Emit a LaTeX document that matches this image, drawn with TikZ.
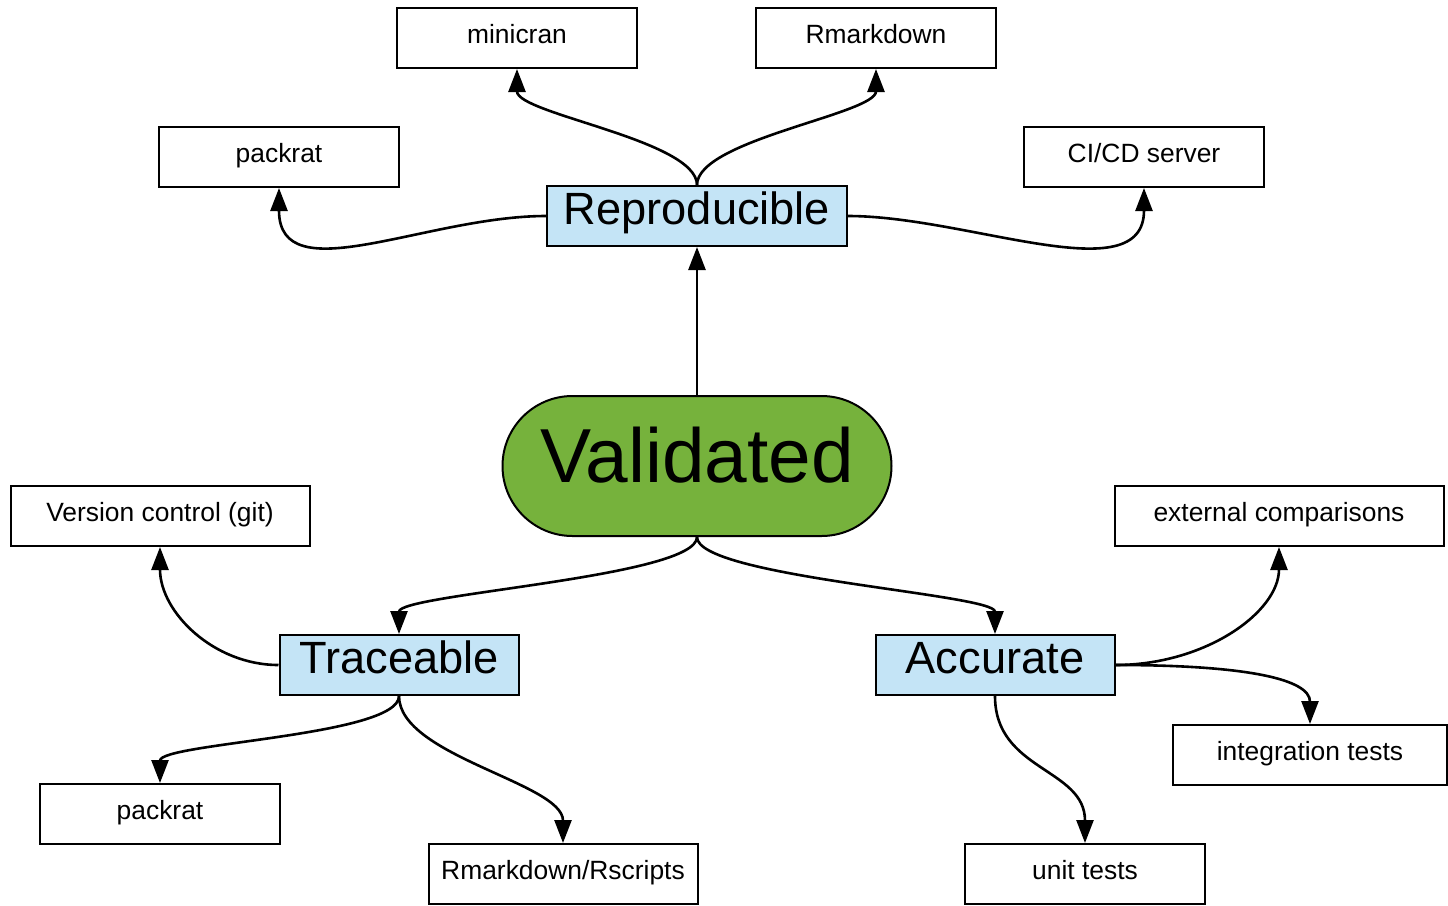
\documentclass[tikz,border=0pt]{standalone}
\usepackage{fontspec}
\setmainfont{Liberation Sans}
\usetikzlibrary{arrows.meta}

\definecolor{leafblue}{RGB}{196,228,246}
\definecolor{rootgreen}{RGB}{118,178,60}

\tikzset{
  leaf/.style={draw, line width=1pt, fill=white, minimum width=120pt, minimum height=30pt, inner sep=0pt, text height=9.5pt, text depth=4.5pt, font=\fontsize{13.2}{15}\selectfont},
  branch/.style={draw, line width=1pt, fill=leafblue, minimum width=119.5pt, minimum height=30pt, inner sep=0pt, text height=16.5pt, text depth=8pt, font=\fontsize{22.6}{26}\selectfont},
  root/.style={draw, line width=1pt, fill=rootgreen, rounded corners=35pt, minimum width=194.5pt, minimum height=70pt, inner sep=0pt, text height=28pt, text depth=12pt, font=\fontsize{38.3}{44}\selectfont},
  link/.style={line width=1.3pt, -{Triangle[length=11.5pt,width=8.5pt]}}
}

\begin{document}
\begin{tikzpicture}[x=0.5pt,y=0.5pt,yscale=-1,xscale=1]
%set diagram left start at 0, and has height of 906
\useasboundingbox (0,0) rectangle (1448,906);

%Shape: Rounded Rectangle
\node [root] (validated) at (697,466) {Validated};

%Shape: Rectangle
\node [branch, minimum width=150pt] (repro) at (697,216) {Reproducible};
%Shape: Rectangle
\node [branch] (trace) at (399,665) {Traceable};
%Shape: Rectangle
\node [branch] (accurate) at (995,665) {Accurate};

%Shape: Rectangle
\node [leaf] (minicran) at (517,38) {minicran};
%Shape: Rectangle
\node [leaf] (rmd) at (876,38) {Rmarkdown};
%Shape: Rectangle
\node [leaf] (packratA) at (279,157) {packrat};
%Shape: Rectangle
\node [leaf] (cicd) at (1144,157) {CI/CD server};
%Shape: Rectangle
\node [leaf, minimum width=149.5pt] (git) at (160,516) {Version control (git)};
%Shape: Rectangle
\node [leaf, minimum width=164.5pt] (external) at (1279,516) {external comparisons};
%Shape: Rectangle
\node [leaf] (packratB) at (160,814) {packrat};
%Shape: Rectangle
\node [leaf, minimum width=134.5pt] (rscripts) at (563,874) {Rmarkdown/Rscripts};
%Shape: Rectangle
\node [leaf, minimum width=137pt] (integration) at (1310,755) {integration tests};
%Shape: Rectangle
\node [leaf] (unit) at (1085,874) {unit tests};

%Straight Lines
\draw [link] (validated.north) -- (repro.south);

%Curve Lines
\draw [link] (repro.north) .. controls +(0,-45) and +(0,45) .. (minicran.south);
\draw [link] (repro.north) .. controls +(0,-45) and +(0,45) .. (rmd.south);
\draw [link] (repro.west) .. controls +(-120,0) and +(0,105) .. (packratA.south);
\draw [link] (repro.east) .. controls +(120,0) and +(0,105) .. (cicd.south);

%Curve Lines
\draw [link] (validated.south) .. controls +(0,40) and +(0,-40) .. (trace.north);
\draw [link] (validated.south) .. controls +(0,40) and +(0,-40) .. (accurate.north);

%Curve Lines
\draw [link] (trace.west) .. controls +(-65,0) and +(0,65) .. (git.south);
\draw [link] (trace.south) .. controls +(0,40) and +(0,-40) .. (packratB.north);
\draw [link] (trace.south) .. controls +(0,60) and +(0,-60) .. (rscripts.north);

%Curve Lines
\draw [link] (accurate.east) .. controls +(90,0) and +(0,65) .. (external.south);
\draw [link] (accurate.east) .. controls +(130,0) and +(0,-45) .. (integration.north);
\draw [link] (accurate.south) .. controls +(0,75) and +(0,-75) .. (unit.north);

\end{tikzpicture}
\end{document}
